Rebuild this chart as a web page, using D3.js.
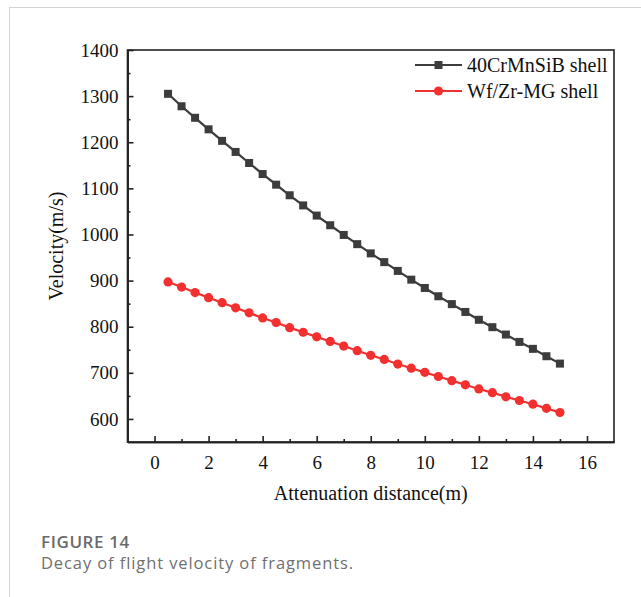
<!DOCTYPE html>
<html>
<head>
<meta charset="utf-8">
<script src="https://cdn.jsdelivr.net/npm/d3@7"></script>
<style>
  body { margin: 0; background: #fff; }
  svg { display: block; }
  .tick text { font-family: "Liberation Serif", "Times New Roman", serif; }
</style>
</head>
<body>
<div id="chart"></div>
<script>
// Chart data
var distance = [0.5, 1, 1.5, 2, 2.5, 3, 3.5, 4, 4.5, 5, 5.5, 6, 6.5, 7, 7.5,
                8, 8.5, 9, 9.5, 10, 10.5, 11, 11.5, 12, 12.5, 13, 13.5, 14, 14.5, 15];
var steelVelocity = [1305, 1278, 1253, 1228, 1203, 1179, 1155, 1131, 1108, 1085,
                     1063, 1041, 1020, 999, 979, 959, 940, 921, 902, 884,
                     866, 849, 832, 815, 799, 783, 767, 752, 736, 720];
var mgVelocity = [897, 886, 874, 863, 852, 841, 830, 819, 809, 798,
                  788, 778, 768, 758, 748, 738, 729, 719, 710, 701,
                  692, 683, 674, 665, 657, 648, 640, 632, 623, 614];
var seriesNames = ['40CrMnSiB shell', 'Wf/Zr-MG shell'];
var xTicks = [0, 2, 4, 6, 8, 10, 12, 14, 16];
var yTicks = [600, 700, 800, 900, 1000, 1100, 1200, 1300, 1400];

var svgWidth = 641;
var svgHeight = 597;

// plot frame position
var margin = { top: 50, right: 27, bottom: 155, left: 127.5 };
var chartWidth = svgWidth - margin.left - margin.right;
var chartHeight = svgHeight - margin.top - margin.bottom;

var svg = d3.select('#chart')
  .append('svg')
  .attr('width', svgWidth)
  .attr('height', svgHeight);

// light card border (top + left)
svg.append('line')
  .attr('x1', 9).attr('x2', svgWidth).attr('y1', 7.5).attr('y2', 7.5)
  .attr('stroke', '#d4d4d4').attr('stroke-width', 1);
svg.append('line')
  .attr('x1', 9.5).attr('x2', 9.5).attr('y1', 7).attr('y2', svgHeight)
  .attr('stroke', '#d4d4d4').attr('stroke-width', 1);

var chartGroup = svg.append('g')
  .attr('transform', `translate(${margin.left}, ${margin.top})`);

var xScale = d3.scaleLinear().domain([-1, 17]).range([0, chartWidth]);
var yScale = d3.scaleLinear().domain([550, 1400]).range([chartHeight, 0]);

var serif = '"Liberation Serif", "Times New Roman", serif';

// x axis: ticks pointing inwards, minor ticks at odd values
var xAxis = d3.axisBottom(xScale)
  .tickValues(xTicks)
  .tickFormat(d3.format('d'))
  .tickSizeInner(-6)
  .tickSizeOuter(0)
  .tickPadding(14);
var xg = chartGroup.append('g')
  .attr('transform', `translate(0, ${chartHeight})`)
  .call(xAxis)
  .attr('font-family', serif)
  .attr('font-size', 19);
xg.selectAll('.tick text').attr('fill', '#111');

var xMinor = d3.axisBottom(xScale)
  .tickValues(d3.range(1, 17, 2))
  .tickSizeInner(-3)
  .tickSizeOuter(0)
  .tickFormat('');
chartGroup.append('g')
  .attr('transform', `translate(0, ${chartHeight})`)
  .call(xMinor);

// y axis
var yAxis = d3.axisLeft(yScale)
  .tickValues(yTicks)
  .tickFormat(d3.format('d'))
  .tickSizeInner(-6)
  .tickSizeOuter(0)
  .tickPadding(9);
var yg = chartGroup.append('g')
  .call(yAxis)
  .attr('font-family', serif)
  .attr('font-size', 19);
yg.selectAll('.tick text').attr('fill', '#111');

var yMinor = d3.axisLeft(yScale)
  .tickValues(d3.range(650, 1400, 100))
  .tickSizeInner(-3)
  .tickSizeOuter(0)
  .tickFormat('');
chartGroup.append('g').call(yMinor);

chartGroup.selectAll('.domain').attr('stroke', '#222').attr('stroke-width', 1.6);
chartGroup.selectAll('.tick line').attr('stroke', '#222').attr('stroke-width', 1.6);

// top and right frame lines
chartGroup.append('rect')
  .attr('x', 0).attr('y', 0)
  .attr('width', chartWidth).attr('height', chartHeight)
  .attr('fill', 'none')
  .attr('stroke', '#222')
  .attr('stroke-width', 1.6);

// axis titles
svg.append('text')
  .attr('x', margin.left + xScale(8))
  .attr('y', 500)
  .attr('text-anchor', 'middle')
  .style('font-family', serif)
  .style('font-size', '20px')
  .attr('fill', '#111')
  .text('Attenuation distance(m)');

svg.append('text')
  .attr('transform', `translate(63, ${margin.top + chartHeight / 2}) rotate(-90)`)
  .attr('text-anchor', 'middle')
  .style('font-family', serif)
  .style('font-size', '20px')
  .attr('fill', '#111')
  .text('Velocity(m/s)');

// series
var steelColor = '#3c3c3c';
var mgColor = '#f23030';

var steelData = distance.map((d, i) => ({ x: d, y: steelVelocity[i] }));
var mgData = distance.map((d, i) => ({ x: d, y: mgVelocity[i] }));

var line = d3.line()
  .x(d => xScale(d.x))
  .y(d => yScale(d.y));

chartGroup.append('path')
  .datum(steelData)
  .attr('d', line)
  .attr('fill', 'none')
  .attr('stroke', steelColor)
  .attr('stroke-width', 2.2);

chartGroup.selectAll('.sq')
  .data(steelData)
  .enter()
  .append('rect')
  .attr('class', 'sq')
  .attr('x', d => xScale(d.x) - 4)
  .attr('y', d => yScale(d.y) - 4)
  .attr('width', 8)
  .attr('height', 8)
  .attr('fill', steelColor);

chartGroup.append('path')
  .datum(mgData)
  .attr('d', line)
  .attr('fill', 'none')
  .attr('stroke', mgColor)
  .attr('stroke-width', 2.2);

chartGroup.selectAll('.dot')
  .data(mgData)
  .enter()
  .append('circle')
  .attr('class', 'dot')
  .attr('cx', d => xScale(d.x))
  .attr('cy', d => yScale(d.y))
  .attr('r', 4.6)
  .attr('fill', mgColor);

// legend
var legend = svg.append('g').attr('transform', 'translate(415, 65)');
var legendColors = [steelColor, mgColor];
seriesNames.forEach(function(name, i) {
  var row = legend.append('g').attr('transform', `translate(0, ${i * 26})`);
  row.append('line')
    .attr('x1', 0).attr('x2', 47).attr('y1', 0).attr('y2', 0)
    .attr('stroke', legendColors[i]).attr('stroke-width', 2.2);
  if (i === 0) {
    row.append('rect').attr('x', 19.5).attr('y', -4).attr('width', 8).attr('height', 8)
      .attr('fill', legendColors[i]);
  } else {
    row.append('circle').attr('cx', 23.5).attr('cy', 0).attr('r', 4.6)
      .attr('fill', legendColors[i]);
  }
  row.append('text')
    .attr('x', 52)
    .attr('y', 7)
    .style('font-family', serif)
    .style('font-size', '20px')
    .attr('fill', '#111')
    .text(name);
});

// caption
svg.append('text')
  .attr('x', 41)
  .attr('y', 548)
  .style('font-family', '"Open Sans", sans-serif')
  .style('font-size', '17px')
  .style('font-weight', 600)
  .style('letter-spacing', '0.6px')
  .attr('fill', '#6a6a6a')
  .text('FIGURE 14');

svg.append('text')
  .attr('x', 41)
  .attr('y', 569)
  .style('font-family', '"Open Sans", sans-serif')
  .style('font-size', '16.5px')
  .style('letter-spacing', '0.9px')
  .attr('fill', '#707070')
  .text('Decay of flight velocity of fragments.');
</script>
</body>
</html>
